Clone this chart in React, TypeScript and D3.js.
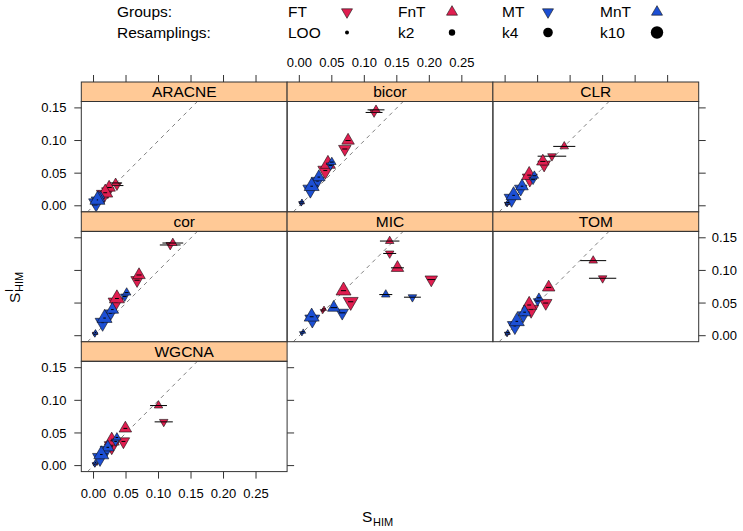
import React from "react";
import * as d3 from "d3";

// ---------- data ----------
const PANELS = ["ARACNE", "bicor", "CLR", "cor", "MIC", "TOM", "WGCNA"];
const GROUPS = ["FT", "FnT", "MT", "MnT"];
const RESAMPLINGS = ["LOO", "k2", "k4", "k10"];
const X_TICKS = [0, 0.05, 0.1, 0.15, 0.2, 0.25];
const Y_TICKS = [0, 0.05, 0.1, 0.15];

// [group, resampling, S_HIM, S^I_HIM, half-width of x error bar]
type Row = [string, string, number, number, number];

const ARACNE: Row[] = [
  ["FT", "LOO", 0.002, 0.002, 0.001], ["FT", "k2", 0.036, 0.031, 0.01], ["FT", "k4", 0.022, 0.022, 0.004], ["FT", "k10", 0.016, 0.017, 0.003],
  ["FnT", "LOO", 0.002, 0.003, 0.001], ["FnT", "k2", 0.034, 0.035, 0.01], ["FnT", "k4", 0.024, 0.028, 0.004], ["FnT", "k10", 0.018, 0.02, 0.003],
  ["MT", "LOO", 0.001, 0.002, 0.001], ["MT", "k2", 0.009, 0.011, 0.002], ["MT", "k4", 0.006, 0.008, 0.001], ["MT", "k10", 0.004, 0.004, 0.001],
  ["MnT", "LOO", 0.002, 0.003, 0.001], ["MnT", "k2", 0.011, 0.015, 0.002], ["MnT", "k4", 0.008, 0.012, 0.001], ["MnT", "k10", 0.006, 0.009, 0.001],
];
const BICOR: Row[] = [
  ["FT", "LOO", 0.003, 0.004, 0.002], ["FT", "k2", 0.115, 0.143, 0.013], ["FT", "k4", 0.07, 0.087, 0.004], ["FT", "k10", 0.04, 0.054, 0.003],
  ["FnT", "LOO", 0.004, 0.005, 0.002], ["FnT", "k2", 0.118, 0.147, 0.013], ["FnT", "k4", 0.075, 0.1, 0.004], ["FnT", "k10", 0.044, 0.064, 0.003],
  ["MT", "LOO", 0.003, 0.004, 0.002], ["MT", "k2", 0.048, 0.062, 0.003], ["MT", "k4", 0.028, 0.038, 0.002], ["MT", "k10", 0.017, 0.025, 0.002],
  ["MnT", "LOO", 0.004, 0.006, 0.002], ["MnT", "k2", 0.05, 0.067, 0.003], ["MnT", "k4", 0.03, 0.044, 0.002], ["MnT", "k10", 0.019, 0.03, 0.002],
];
const CLR: Row[] = [
  ["FT", "LOO", 0.003, 0.003, 0.002], ["FT", "k2", 0.072, 0.076, 0.022], ["FT", "k4", 0.06, 0.063, 0.004], ["FT", "k10", 0.038, 0.042, 0.003],
  ["FnT", "LOO", 0.004, 0.004, 0.002], ["FnT", "k2", 0.091, 0.091, 0.017], ["FnT", "k4", 0.058, 0.068, 0.004], ["FnT", "k10", 0.037, 0.047, 0.003],
  ["MT", "LOO", 0.003, 0.003, 0.002], ["MT", "k2", 0.043, 0.04, 0.003], ["MT", "k4", 0.024, 0.026, 0.002], ["MT", "k10", 0.01, 0.011, 0.002],
  ["MnT", "LOO", 0.004, 0.005, 0.002], ["MnT", "k2", 0.045, 0.046, 0.003], ["MnT", "k4", 0.026, 0.03, 0.002], ["MnT", "k10", 0.013, 0.016, 0.002],
];
const COR: Row[] = [
  ["FT", "LOO", 0.002, 0.003, 0.001], ["FT", "k2", 0.118, 0.139, 0.016], ["FT", "k4", 0.067, 0.085, 0.004], ["FT", "k10", 0.034, 0.051, 0.003],
  ["FnT", "LOO", 0.003, 0.004, 0.001], ["FnT", "k2", 0.122, 0.142, 0.016], ["FnT", "k4", 0.07, 0.093, 0.004], ["FnT", "k10", 0.036, 0.057, 0.003],
  ["MT", "LOO", 0.002, 0.002, 0.001], ["MT", "k2", 0.048, 0.06, 0.003], ["MT", "k4", 0.026, 0.034, 0.002], ["MT", "k10", 0.014, 0.02, 0.002],
  ["MnT", "LOO", 0.003, 0.005, 0.001], ["MnT", "k2", 0.051, 0.066, 0.003], ["MnT", "k4", 0.029, 0.04, 0.002], ["MnT", "k10", 0.017, 0.027, 0.002],
];
const MIC: Row[] = [
  ["FT", "LOO", 0.036, 0.038, 0.003], ["FT", "k2", 0.139, 0.126, 0.01], ["FT", "k4", 0.203, 0.086, 0.006], ["FT", "k10", 0.079, 0.052, 0.004],
  ["FnT", "LOO", 0.038, 0.041, 0.003], ["FnT", "k2", 0.139, 0.145, 0.015], ["FnT", "k4", 0.151, 0.104, 0.01], ["FnT", "k10", 0.068, 0.069, 0.004],
  ["MT", "LOO", 0.004, 0.004, 0.002], ["MT", "k2", 0.174, 0.059, 0.013], ["MT", "k4", 0.066, 0.035, 0.005], ["MT", "k10", 0.02, 0.025, 0.003],
  ["MnT", "LOO", 0.006, 0.006, 0.002], ["MnT", "k2", 0.133, 0.063, 0.01], ["MnT", "k4", 0.053, 0.043, 0.005], ["MnT", "k10", 0.019, 0.029, 0.003],
];
const TOM: Row[] = [
  ["FT", "LOO", 0.003, 0.003, 0.002], ["FT", "k2", 0.15, 0.088, 0.021], ["FT", "k4", 0.0625, 0.05, 0.004], ["FT", "k10", 0.04, 0.04, 0.003],
  ["FnT", "LOO", 0.004, 0.004, 0.002], ["FnT", "k2", 0.1355, 0.115, 0.02], ["FnT", "k4", 0.067, 0.074, 0.004], ["FnT", "k10", 0.037, 0.047, 0.003],
  ["MT", "LOO", 0.003, 0.003, 0.002], ["MT", "k2", 0.05, 0.053, 0.003], ["MT", "k4", 0.028, 0.031, 0.002], ["MT", "k10", 0.015, 0.015, 0.002],
  ["MnT", "LOO", 0.004, 0.005, 0.002], ["MnT", "k2", 0.052, 0.058, 0.003], ["MnT", "k4", 0.03, 0.036, 0.002], ["MnT", "k10", 0.018, 0.022, 0.002],
];
const WGCNA: Row[] = [
  ["FT", "LOO", 0.002, 0.002, 0.001], ["FT", "k2", 0.108, 0.067, 0.014], ["FT", "k4", 0.046, 0.037, 0.003], ["FT", "k10", 0.028, 0.03, 0.002],
  ["FnT", "LOO", 0.003, 0.003, 0.001], ["FnT", "k2", 0.1, 0.092, 0.013], ["FnT", "k4", 0.049, 0.057, 0.003], ["FnT", "k10", 0.028, 0.038, 0.002],
  ["MT", "LOO", 0.002, 0.002, 0.001], ["MT", "k2", 0.034, 0.037, 0.002], ["MT", "k4", 0.02, 0.024, 0.002], ["MT", "k10", 0.01, 0.012, 0.002],
  ["MnT", "LOO", 0.003, 0.005, 0.001], ["MnT", "k2", 0.036, 0.043, 0.002], ["MnT", "k4", 0.022, 0.028, 0.002], ["MnT", "k10", 0.012, 0.017, 0.002],
];
const PANEL_DATA: Row[][] = [ARACNE, BICOR, CLR, COR, MIC, TOM, WGCNA];

// ---------- styling / layout ----------
const FONT = "'Liberation Sans', Arial, Helvetica, sans-serif";
const RED = "#E01E50";
const BLUE = "#1C4FD4";
const STRIP_FILL = "#FFC996";
const LINE = "#333333";

const LEFT = 81.3;
const PW = 205.8;
const TOP = 82;
const STRIP = 19.5;
const PH = 110.3;
const PITCH = 129.9;
const TICK = 7;

const color = d3.scaleOrdinal<string, string>().domain(GROUPS).range([RED, RED, BLUE, BLUE]);
const pointsUp = d3.scaleOrdinal<string, boolean>().domain(GROUPS).range([false, true, false, true]);
const triSide = d3.scaleOrdinal<string, number>().domain(RESAMPLINGS).range([5, 8.5, 12.5, 15]);
const dotR = d3.scaleOrdinal<string, number>().domain(RESAMPLINGS).range([2, 3.2, 4.8, 6.2]);
const fmt = d3.format(".2f");

function triPath(cx: number, cy: number, s: number, up: boolean) {
  const R = s / Math.sqrt(3);
  const d = up ? 1 : -1;
  const p = d3.path();
  p.moveTo(cx, cy - d * R);
  p.lineTo(cx + s / 2, cy + (d * R) / 2);
  p.lineTo(cx - s / 2, cy + (d * R) / 2);
  p.closePath();
  return p.toString();
}

function Panel({ idx }: { idx: number }) {
  const col = idx % 3;
  const row = Math.floor(idx / 3);
  const x0 = LEFT + col * PW;
  const stripTop = TOP + row * PITCH;
  const pTop = stripTop + STRIP;
  const pBot = pTop + PH;
  const x = d3.scaleLinear().domain([-0.0188, 0.2978]).range([x0, x0 + PW]);
  const y = d3.scaleLinear().domain([-0.0092, 0.1598]).range([pBot, pTop]);
  const data = PANEL_DATA[idx];
  const clipId = `clip-${idx}`;
  const lo = Math.max(x.domain()[0], y.domain()[0]);
  const hi = Math.min(x.domain()[1], y.domain()[1]);
  return (
    <g>
      <defs>
        <clipPath id={clipId}>
          <rect x={x0} y={pTop} width={PW} height={PH} />
        </clipPath>
      </defs>
      <g clipPath={`url(#${clipId})`}>
        <line x1={x(lo)} y1={y(lo)} x2={x(hi)} y2={y(hi)} stroke="#808080" strokeDasharray="4 4" strokeWidth={1} />
        {data.map((d, i) => (
          <g key={i}>
            <path d={triPath(x(d[2]), y(d[3]), triSide(d[1]), pointsUp(d[0]))} fill={color(d[0])} stroke="#111" strokeWidth={0.6} />
            <line x1={x(d[2] - d[4])} x2={x(d[2] + d[4])} y1={y(d[3])} y2={y(d[3])} stroke="#000" strokeWidth={1} />
          </g>
        ))}
      </g>
      <rect x={x0} y={stripTop} width={PW} height={STRIP} fill={STRIP_FILL} stroke={LINE} strokeWidth={1} />
      <text x={x0 + PW / 2} y={stripTop + STRIP / 2 + 5.5} textAnchor="middle" fontSize={15.5} fontFamily={FONT}>
        {PANELS[idx]}
      </text>
      <rect x={x0} y={pTop} width={PW} height={PH} fill="none" stroke={LINE} strokeWidth={1} />
    </g>
  );
}

function Axes() {
  const els: React.ReactNode[] = [];
  // top ticks (row 0), labels on middle column
  for (let c = 0; c < 3; c++) {
    const x0 = LEFT + c * PW;
    const x = d3.scaleLinear().domain([-0.0188, 0.2978]).range([x0, x0 + PW]);
    X_TICKS.forEach((t) => {
      els.push(<line key={`tt${c}${t}`} x1={x(t)} x2={x(t)} y1={TOP} y2={TOP - TICK} stroke={LINE} />);
      if (c === 1)
        els.push(
          <text key={`tl${c}${t}`} x={x(t)} y={67} textAnchor="middle" fontSize={13} fontFamily={FONT}>
            {fmt(t)}
          </text>
        );
    });
  }
  // bottom ticks under WGCNA
  {
    const x = d3.scaleLinear().domain([-0.0188, 0.2978]).range([LEFT, LEFT + PW]);
    const yb = TOP + 2 * PITCH + STRIP + PH;
    X_TICKS.forEach((t) => {
      els.push(<line key={`bt${t}`} x1={x(t)} x2={x(t)} y1={yb} y2={yb + TICK} stroke={LINE} />);
      els.push(
        <text key={`bl${t}`} x={x(t)} y={498} textAnchor="middle" fontSize={13} fontFamily={FONT}>
          {fmt(t)}
        </text>
      );
    });
  }
  // left & right ticks
  const rightX = [LEFT + 3 * PW, LEFT + 3 * PW, LEFT + PW];
  for (let r = 0; r < 3; r++) {
    const pTop = TOP + r * PITCH + STRIP;
    const y = d3.scaleLinear().domain([-0.0092, 0.1598]).range([pTop + PH, pTop]);
    Y_TICKS.forEach((t) => {
      els.push(<line key={`lt${r}${t}`} x1={LEFT} x2={LEFT - TICK} y1={y(t)} y2={y(t)} stroke={LINE} />);
      if (r !== 1)
        els.push(
          <text key={`ll${r}${t}`} x={66.5} y={y(t)} dy="0.35em" textAnchor="end" fontSize={13} fontFamily={FONT}>
            {fmt(t)}
          </text>
        );
      const rx = rightX[r];
      els.push(<line key={`rt${r}${t}`} x1={rx} x2={rx + TICK} y1={y(t)} y2={y(t)} stroke={LINE} />);
      if (r === 1)
        els.push(
          <text key={`rl${r}${t}`} x={rx + 13} y={y(t)} dy="0.35em" textAnchor="start" fontSize={13} fontFamily={FONT}>
            {fmt(t)}
          </text>
        );
    });
  }
  return <g>{els}</g>;
}

const LEG_TEXT_X = [288, 398, 502, 600];
const LEG_SYM_X = [347, 452, 548, 657];

function Legend() {
  return (
    <g fontFamily={FONT} fontSize={15.5}>
      <text x={117} y={17}>Groups:</text>
      <text x={117} y={38}>Resamplings:</text>
      {GROUPS.map((g, i) => (
        <g key={g}>
          <text x={LEG_TEXT_X[i]} y={17}>{g}</text>
          <path d={triPath(LEG_SYM_X[i], 12, 11, pointsUp(g))} fill={color(g)} stroke="#111" strokeWidth={0.6} />
        </g>
      ))}
      {RESAMPLINGS.map((r, i) => (
        <g key={r}>
          <text x={LEG_TEXT_X[i]} y={38}>{r}</text>
          <circle cx={LEG_SYM_X[i]} cy={32.5} r={dotR(r)} fill="#000" />
        </g>
      ))}
    </g>
  );
}

export default function App() {
  return (
    <svg width={743} height={531} style={{ position: "absolute", left: 0, top: 0, background: "#fff" }}>
      <rect width={743} height={531} fill="#fff" />
      <Legend />
      {PANELS.map((_, i) => (
        <Panel key={i} idx={i} />
      ))}
      <Axes />
      <g fontFamily={FONT}>
        <text x={362} y={522} fontSize={15.5}>
          S
        </text>
        <text x={373} y={526} fontSize={11}>
          HIM
        </text>
        <g transform="translate(19.5,287) rotate(-90)">
          <text x={-16} y={0} fontSize={15.5}>S</text>
          <text x={-5} y={-6.5} fontSize={11}>I</text>
          <text x={-5} y={3.5} fontSize={11}>HIM</text>
        </g>
      </g>
    </svg>
  );
}
